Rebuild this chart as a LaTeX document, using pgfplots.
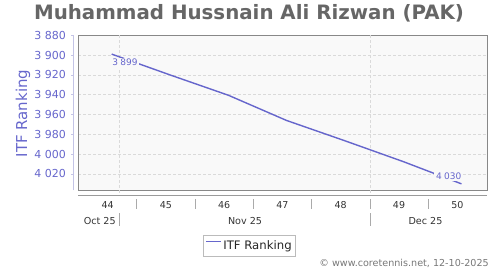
\documentclass[border=0pt]{standalone}
\usepackage{pgfplots}
\pgfplotsset{compat=1.18}
\usepackage{fontspec}
\setmainfont{DejaVu Sans}
\definecolor{ttl}{HTML}{666666}
\definecolor{ser}{HTML}{6666CC}
\definecolor{lab}{HTML}{6666CC}
\definecolor{yax}{HTML}{C4C4E6}
\definecolor{frm}{HTML}{888888}
\definecolor{grd}{HTML}{DADADA}
\definecolor{pbg}{HTML}{F9F9F9}
\definecolor{txt}{HTML}{333333}
\definecolor{sep}{HTML}{AAAAAA}
\definecolor{cred}{HTML}{777777}
\begin{document}
\begin{tikzpicture}
\begin{axis}[
  at={(78.4pt,79.7pt)}, anchor=south west,
  scale only axis, width=408.9pt, height=155pt,
  xmin=0, xmax=49.1, ymin=3880, ymax=4036.5, y dir=reverse,
  clip=false,
  axis background/.style={fill=pbg},
  axis line style={frm, line width=0.8pt},
  major tick length=0pt,
  xtick={3.5,10.5,17.5,24.5,31.5,38.5,45.5},
  xticklabels={44,45,46,47,48,49,50},
  xticklabel style={anchor=base, yshift=-18pt, font=\fontsize{9.5}{11}\selectfont, text=txt},
  extra x ticks={4.9,35},
  extra x tick labels={},
  extra x tick style={grid=major},
  ytick={3880,3900,3920,3940,3960,3980,4000,4020},
  ymajorgrids,
  major grid style={grd, dash pattern=on 3pt off 2pt, line width=0.7pt},
  scaled y ticks=false,
  yticklabel style={anchor=east, inner sep=0pt, xshift=-12.4pt, font=\fontsize{11}{13}\selectfont, text=lab},
  /pgf/number format/assume math mode=true,
  /pgf/number format/1000 sep={\ },
  title={Muhammad Hussnain Ali Rizwan (PAK)},
  every axis title/.style={at={(axis description cs:0.4172,1.1032)}, anchor=base, inner sep=0pt, font=\bfseries\fontsize{19.8}{22}\selectfont, text=ttl},
  ylabel={ITF Ranking},
  every axis y label/.style={at={(axis description cs:-0.1355,0.4955)}, rotate=90, anchor=center, inner sep=0pt, font=\fontsize{15}{17}\selectfont, text=lab},
  legend style={at={(axis description cs:0.4184,-0.358)}, anchor=center, draw=sep!80, fill=white, font=\fontsize{11.7}{13}\selectfont, text=black!85, inner xsep=2pt, inner ysep=2.5pt, nodes={inner xsep=1.8pt, inner ysep=2.5pt}},
  legend image code/.code={\draw[#1, line width=1pt] (0pt,4.3pt) -- (15pt,4.3pt);},
]
\addplot[ser, line width=1.4pt] coordinates {(4,3899) (11,3920) (18,3940.5) (25,3966) (32,3986.5) (39,4007.5) (46,4030)};
\addlegendentry{ITF Ranking}
\node[anchor=north west, fill=pbg, inner sep=1.8pt, xshift=-1.3pt, yshift=-3.2pt, font=\fontsize{9}{10}\selectfont, text=lab] at (axis cs:4,3899) {3\kern0.25em 899};
\node[anchor=south east, fill=pbg, inner sep=2pt, xshift=2pt, yshift=2.5pt, font=\fontsize{9}{10}\selectfont, text=lab] at (axis cs:46,4030) {4\kern0.25em 030};
\end{axis}
% axis decorations
\draw[grd, dash pattern=on 3pt off 2pt, line width=0.7pt] (119.2pt,79.7pt) -- (119.2pt,75pt);
\draw[grd, dash pattern=on 3pt off 2pt, line width=0.7pt] (369.9pt,79.7pt) -- (369.9pt,75pt);
\draw[frm!85, line width=0.8pt] (78.4pt,75pt) -- (487.3pt,75pt);
\foreach \x in {136.7,195.0,253.3,311.6,369.9,428.2}
  \draw[sep, line width=0.8pt] (\x pt,71pt) -- (\x pt,60.7pt);
\foreach \x in {119.3,369.9}
  \draw[sep, line width=0.8pt] (\x pt,56.7pt) -- (\x pt,44.3pt);
\node[anchor=base, inner sep=0pt, font=\fontsize{9.6}{11}\selectfont, text=txt] at (99.7pt,45pt) {Oct 25};
\node[anchor=base, inner sep=0pt, font=\fontsize{9.6}{11}\selectfont, text=txt] at (245pt,45pt) {Nov 25};
\node[anchor=base, inner sep=0pt, font=\fontsize{9.6}{11}\selectfont, text=txt] at (425.5pt,45pt) {Dec 25};
\draw[yax, line width=0.8pt] (73.3pt,79.7pt) -- (73.3pt,234.7pt);
\foreach \y in {234.7,214.89,195.08,175.28,155.47,135.66,115.85,96.04}
  \draw[yax, line width=0.8pt] (73.3pt,\y pt) -- (71.3pt,\y pt);
\node[anchor=base east, inner sep=0pt, font=\fontsize{9.6}{11}\selectfont, text=cred] at (489pt,3.3pt) {© www.coretennis.net, 12-10-2025};
\pgfresetboundingbox
\useasboundingbox (0pt,0pt) rectangle (500pt,270pt);
\end{tikzpicture}
\end{document}
